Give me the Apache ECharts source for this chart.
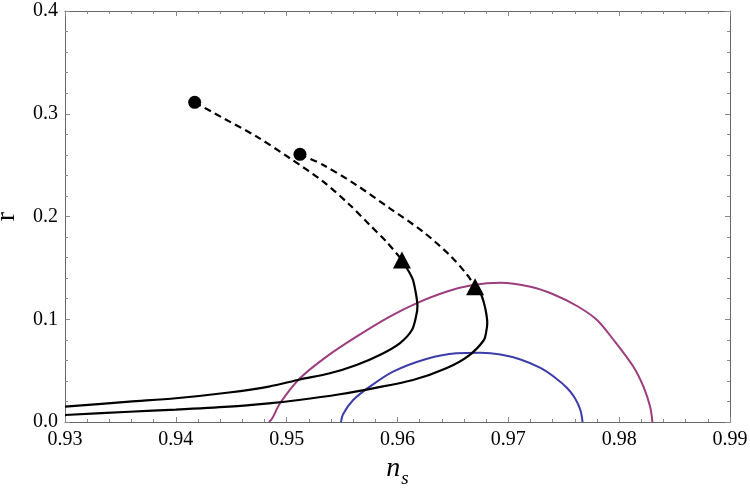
<!DOCTYPE html>
<html>
<head>
<meta charset="utf-8">
<script src="https://cdn.jsdelivr.net/npm/echarts@6/dist/echarts.min.js"></script>
<style>
html,body{margin:0;padding:0;background:#fff;}
#chart{width:750px;height:489px;}
</style>
</head>
<body>
<div id="chart"></div>
<script>
// ---- data (n_s, r) ----
const xTicks = [0.93, 0.94, 0.95, 0.96, 0.97, 0.98, 0.99];
const yTicks = [0.0, 0.1, 0.2, 0.3, 0.4];

const dashed1 = [[0.9417,0.3111],[0.9443,0.2956],[0.9473,0.2777],[0.9503,0.2566],[0.9533,0.2339],[0.9557,0.2112],[0.9575,0.1917],[0.9590,0.1755],[0.9604,0.1577]];
const solid1 = [[0.9604,0.1577],[0.9611,0.1450],[0.9614,0.1382],[0.9617,0.1226],[0.9618,0.1129],[0.9617,0.1041],[0.9613,0.0895],[0.9602,0.0766],[0.9584,0.0652],[0.9563,0.0555],[0.9539,0.0474],[0.9512,0.0414],[0.9484,0.0345],[0.9448,0.0287],[0.9400,0.0231],[0.9358,0.0198],[0.9300,0.0149]];

const dashed2 = [[0.9512,0.2605],[0.9533,0.2501],[0.9563,0.2306],[0.9593,0.2080],[0.9623,0.1852],[0.9647,0.1625],[0.9663,0.1431],[0.9670,0.1317]];
const solid2 = [[0.9670,0.1317],[0.9675,0.1252],[0.9678,0.1158],[0.9680,0.1061],[0.9681,0.0963],[0.9680,0.0876],[0.9678,0.0798],[0.9665,0.0652],[0.9644,0.0523],[0.9614,0.0409],[0.9578,0.0328],[0.9548,0.0270],[0.9511,0.0214],[0.9484,0.0182],[0.9448,0.0149],[0.9400,0.0120],[0.9358,0.0100],[0.9300,0.0068]];

const contourOuter = [[0.9484,0],[0.9487,0.0036],[0.9494,0.0182],[0.9512,0.0425],[0.9536,0.0636],[0.9563,0.0830],[0.9593,0.1025],[0.9617,0.1155],[0.9644,0.1268],[0.9668,0.1333],[0.9693,0.1356],[0.9720,0.1317],[0.9740,0.1246],[0.9762,0.1129],[0.9780,0.0993],[0.9795,0.0798],[0.9813,0.0535],[0.9822,0.0341],[0.9828,0.0146],[0.9830,0]];
const contourInner = [[0.9549,0],[0.9551,0.0078],[0.9560,0.0214],[0.9575,0.0344],[0.9596,0.0490],[0.9626,0.0613],[0.9653,0.0669],[0.9675,0.0674],[0.9693,0.0657],[0.9711,0.0608],[0.9729,0.0526],[0.9742,0.0433],[0.9753,0.0331],[0.9760,0.0234],[0.9765,0.0117],[0.9767,0]];

const startPoints = [[0.9417,0.3111],[0.9512,0.2605]];
const endPoints = [[0.9604,0.1577],[0.9670,0.1317]];

const serif = "'Liberation Serif', 'DejaVu Serif', serif";
const axisColor = '#666';
const tickColor = '#888';

function xAxisDef(pos, showLabel) {
  return {
    type: 'value', position: pos,
    min: xTicks[0], max: xTicks[xTicks.length-1], interval: 0.01,
    axisLine: {show: true, onZero: false, lineStyle: {color: axisColor, width: 1}},
    axisTick: {show: true, inside: true, length: 5, lineStyle: {color: tickColor}},
    minorTick: {show: true, splitNumber: 5, length: 3, lineStyle: {color: tickColor}},
    splitLine: {show: false},
    axisLabel: {show: showLabel, showMinLabel: true, showMaxLabel: true, margin: 8,
      fontFamily: serif, fontSize: 20, color: '#000',
      formatter: v => v.toFixed(2)}
  };
}
function yAxisDef(pos, showLabel) {
  return {
    type: 'value', position: pos,
    min: yTicks[0], max: yTicks[yTicks.length-1], interval: 0.1,
    axisLine: {show: true, onZero: false, lineStyle: {color: axisColor, width: 1}},
    axisTick: {show: true, inside: true, length: 5, lineStyle: {color: tickColor}},
    minorTick: {show: true, splitNumber: 5, length: 3, lineStyle: {color: tickColor}},
    splitLine: {show: false},
    axisLabel: {show: showLabel, showMinLabel: true, showMaxLabel: true, margin: 7,
      fontFamily: serif, fontSize: 20, color: '#000',
      formatter: v => v.toFixed(1)}
  };
}

const xb = xAxisDef('bottom', true);
xb.name = '{n|n}{s|s}';
xb.nameLocation = 'middle';
xb.nameGap = 31;
xb.nameTextStyle = {
  rich: {
    n: {fontFamily: serif, fontStyle: 'italic', fontSize: 28, color: '#000', verticalAlign: 'top', lineHeight: 34},
    s: {fontFamily: serif, fontStyle: 'italic', fontSize: 19, color: '#000', verticalAlign: 'bottom', lineHeight: 34, padding: [0,0,0,1]}
  }
};
const yl = yAxisDef('left', true);
yl.name = 'r';
yl.nameLocation = 'middle';
yl.nameRotate = 90;
yl.nameGap = 44;
yl.nameTextStyle = {fontFamily: serif, fontSize: 28, color: '#000'};

const lineBase = (data, color, type, w) => ({
  type: 'line', data: data, xAxisIndex: 0, yAxisIndex: 0,
  showSymbol: false, symbol: 'none', smooth: 0.3, z: 3,
  lineStyle: {color: color, width: w, type: type},
  animation: false
});

const option = {
  backgroundColor: '#fff',
  animation: false,
  grid: {left: 65, right: 20, top: 11, bottom: 67, containLabel: false, outerBoundsMode: 'none'},
  xAxis: [xb, xAxisDef('top', false)],
  yAxis: [yl, yAxisDef('right', false)],
  series: [
    lineBase(contourOuter, '#9c3e7d', 'solid', 2),
    lineBase(contourInner, '#3c3caa', 'solid', 2),
    lineBase(dashed1, '#000', [7,4.5], 2.2),
    lineBase(dashed2, '#000', [7,4.5], 2.2),
    lineBase(solid1, '#000', 'solid', 2.2),
    lineBase(solid2, '#000', 'solid', 2.2),
    {type: 'scatter', data: startPoints, symbol: 'circle', symbolSize: 13,
     itemStyle: {color: '#000', opacity: 1}, z: 5, animation: false},
    {type: 'scatter', data: endPoints, symbol: 'triangle', symbolSize: [18,17],
     itemStyle: {color: '#000', opacity: 1}, z: 5, animation: false}
  ]
};

const chart = echarts.init(document.getElementById('chart'), null, {renderer: 'canvas'});
chart.setOption(option);
</script>
</body>
</html>
